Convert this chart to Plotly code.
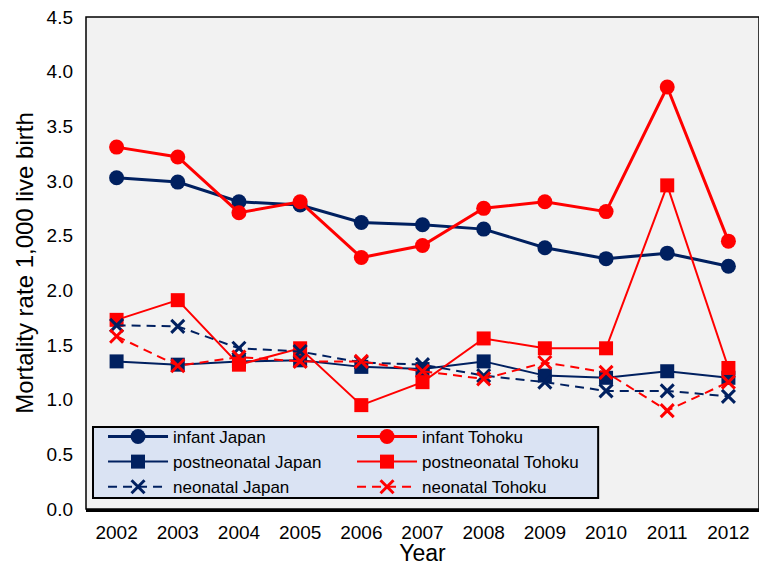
import plotly.graph_objects as go

years = ["2002", "2003", "2004", "2005", "2006", "2007", "2008", "2009", "2010", "2011", "2012"]

infant_japan = [3.03, 2.99, 2.81, 2.78, 2.62, 2.60, 2.56, 2.39, 2.29, 2.34, 2.22]
infant_tohoku = [3.31, 3.22, 2.71, 2.81, 2.30, 2.41, 2.75, 2.81, 2.72, 3.86, 2.45]
postneo_japan = [1.35, 1.32, 1.35, 1.36, 1.30, 1.28, 1.35, 1.22, 1.20, 1.26, 1.20]
postneo_tohoku = [1.73, 1.91, 1.32, 1.47, 0.95, 1.16, 1.56, 1.47, 1.47, 2.96, 1.29]
neo_japan = [1.68, 1.67, 1.47, 1.44, 1.34, 1.32, 1.22, 1.16, 1.08, 1.08, 1.03]
neo_tohoku = [1.58, 1.31, 1.39, 1.35, 1.35, 1.26, 1.19, 1.34, 1.25, 0.90, 1.16]

yticks = [0.0, 0.5, 1.0, 1.5, 2.0, 2.5, 3.0, 3.5, 4.0, 4.5]

NAVY = "#002060"
RED = "#ff0000"

fig = go.Figure()

def add(name, vals, color, symbol, lw, dash, msize, mline=0):
    marker = dict(symbol=symbol, size=msize, color=color)
    if mline:
        marker["line"] = dict(width=mline, color=color)
    fig.add_trace(go.Scatter(
        x=years, y=vals, name=name, mode="lines+markers",
        line=dict(color=color, width=lw, dash=dash),
        marker=marker,
    ))

add("infant Japan", infant_japan, NAVY, "circle", 3, "solid", 15)
add("infant Tohoku", infant_tohoku, RED, "circle", 3, "solid", 15)
add("postneonatal Japan", postneo_japan, NAVY, "square", 2, "solid", 14)
add("postneonatal Tohoku", postneo_tohoku, RED, "square", 2, "solid", 14)
add("neonatal Japan", neo_japan, NAVY, "x-thin", 2, "9px,6px", 13, 3)
add("neonatal Tohoku", neo_tohoku, RED, "x-thin", 2, "9px,6px", 13, 3)

fig.update_layout(
    width=759, height=566,
    margin=dict(l=86, r=0, t=17, b=57, pad=0),
    paper_bgcolor="white",
    plot_bgcolor="#f2f2f2",
    font=dict(family="Liberation Sans, Arial, sans-serif", size=19, color="black"),
    showlegend=True,
    legend=dict(
        orientation="h",
        x=0.0253, y=0.183, xanchor="left", yanchor="top",
        bgcolor="rgba(0,0,0,0)", borderwidth=0,
        font=dict(size=17),
        entrywidth=174, entrywidthmode="pixels",
        itemwidth=60,
        tracegroupgap=0,
    ),
    xaxis=dict(
        type="category", categoryarray=years, range=[-0.5, 10.5],
        showgrid=False, showline=True, linecolor="black", linewidth=2.5,
        ticks="", tickfont=dict(size=19), ticklabelstandoff=4,
        title=dict(text="Year", font=dict(size=23), standoff=8),
        zeroline=False, automargin=False,
    ),
    yaxis=dict(
        range=[0, 4.5], tickvals=yticks, tickformat=".1f",
        showgrid=False, showline=False, ticks="",
        tickfont=dict(size=19), ticklabelstandoff=12,
        title=dict(text="Mortality rate 1,000 live birth", font=dict(size=24), standoff=6),
        zeroline=False, automargin=False,
    ),
    shapes=[
        dict(type="rect", xref="paper", yref="paper", x0=0, x1=1, y0=0, y1=1,
             line=dict(color="black", width=1.5), layer="above"),
        dict(type="rect", xref="paper", yref="paper", x0=0.0104, x1=0.761, y0=0.0224, y1=0.1667,
             line=dict(color="black", width=2), fillcolor="#dae3f3", layer="above"),
    ],
)

fig.write_html(
    "out.html",
    config={"displayModeBar": False},
    post_script="document.body.style.margin='0';document.body.style.overflow='hidden';",
)
